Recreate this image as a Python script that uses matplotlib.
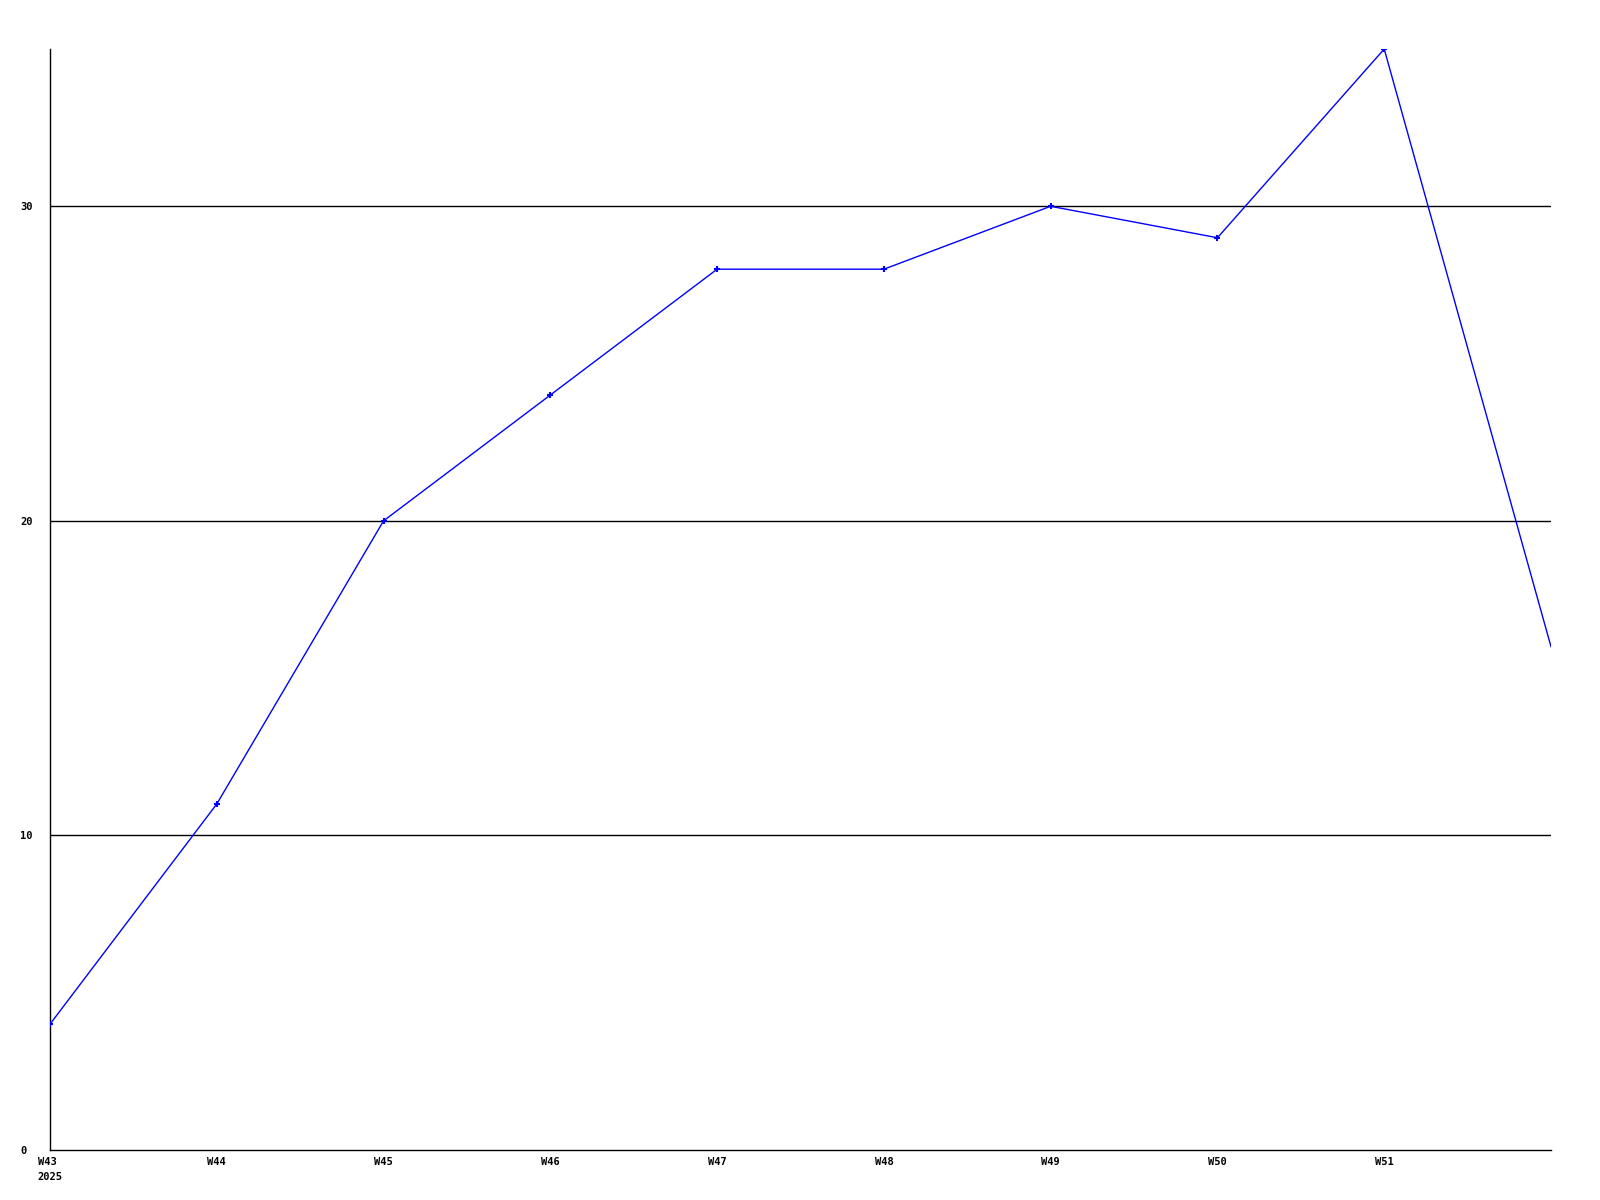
import matplotlib
matplotlib.use("Agg")
import matplotlib.pyplot as plt

weeks = ["W43", "W44", "W45", "W46", "W47", "W48", "W49", "W50", "W51", "W52"]
counts = [4, 11, 20, 24, 28, 28, 30, 29, 35, 16]
tick_labels = ["W43\n2025", "W44", "W45", "W46", "W47", "W48", "W49", "W50", "W51"]
y_ticks = [0, 10, 20, 30]

plt.rcParams['font.family'] = ['DejaVu Sans Mono']
plt.rcParams['font.weight'] = 'bold'

fig = plt.figure(figsize=(16, 12), dpi=100)
ax = fig.add_axes([50/1600, 1 - 1150/1200, 1501/1600, 1101/1200])

x = list(range(len(weeks)))
for y in y_ticks[1:]:
    ax.axhline(y, color='black', lw=1, zorder=1)
# last point sits on the right edge, no marker there
ax.plot(x, counts, color='#0000ff', lw=1, marker='+', ms=4, mew=1.5,
        markevery=list(range(len(x) - 1)), zorder=3)

ax.set_xlim(0, len(weeks) - 1)
ax.set_ylim(0, 35)
ax.set_xticks(x[:-1])
ax.set_xticklabels(tick_labels, fontsize=7.5, fontweight='bold', linespacing=1.6, va='top')
ax.set_yticks(y_ticks)
ax.set_yticklabels([str(v) for v in y_ticks], fontsize=7.5, fontweight='bold', ha='left')
ax.tick_params(axis='both', length=0)
ax.tick_params(axis='y', pad=21.6)
ax.tick_params(axis='x', pad=5)
for lbl in ax.get_xticklabels():
    lbl.set_multialignment('left')

for s in ['top', 'right']:
    ax.spines[s].set_visible(False)
for s in ['left', 'bottom']:
    ax.spines[s].set_linewidth(1)
    ax.spines[s].set_color('black')

fig.savefig("out.png", dpi=100, facecolor='white')
